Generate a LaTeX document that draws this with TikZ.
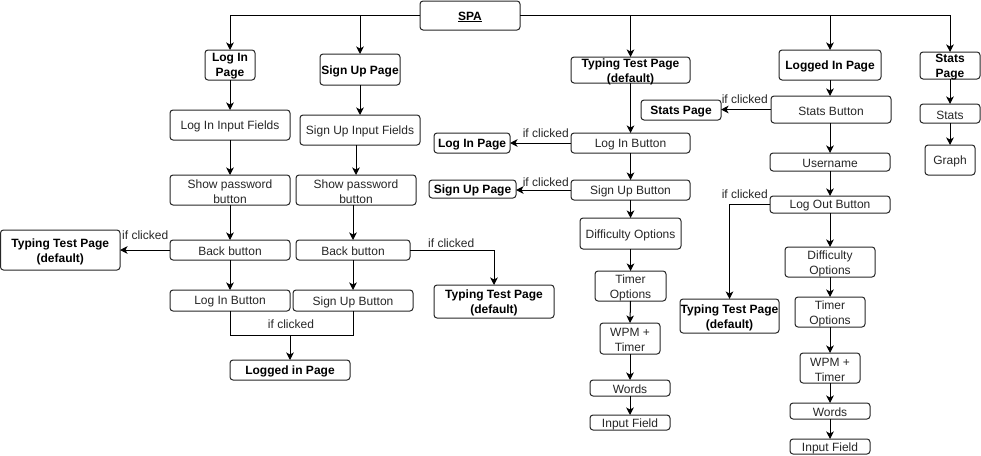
\documentclass[tikz,border=0pt]{standalone}
\usepackage{fontspec}
\setmainfont{Liberation Sans}
\usetikzlibrary{arrows.meta}
\tikzset{
 box/.style={draw=black!85, line width=1pt, rounded corners=3pt, inner sep=0pt, outer sep=0pt},
 txt/.style={inner sep=0pt, align=center, text=black!85, yshift=-1.5pt, font=\fontsize{12}{15}\selectfont},
 bt/.style={inner sep=0pt, align=center, text=black, yshift=-1.5pt, font=\fontsize{12}{15}\selectfont\bfseries},
 lbl/.style={inner sep=0pt, text=black!85, font=\fontsize{12}{14}\selectfont},
 arr/.style={line width=1pt, -{Stealth[length=7.5pt,width=7.5pt,inset=2pt]}},
 ln/.style={line width=1pt},
}
\newcommand\bx[7][txt]{\node[box, minimum width={#4-#2}, minimum height={#5-#3}] (#6) at ({(#2+#4)/2},{(#3+#5)/2}) {}; \node[#1] (#6-t) at (#6.center) {#7};}
\begin{document}
\begin{tikzpicture}[x=1pt,y=-1pt]
\useasboundingbox (0,0) rectangle (981,455);
% top
\bx[bt]{420}{1}{520}{30}{spa}{\underline{SPA}}
% left column
\bx[bt]{205}{50}{255}{80}{lip}{Log In\\Page}
\bx[bt]{320}{54}{400}{85}{sup}{Sign Up Page}
\bx{170}{110}{290}{140}{lif}{Log In Input Fields}
\bx{300}{115}{420}{145}{suf}{Sign Up Input Fields}
\bx{170}{175}{290}{205}{spL}{Show password\\button}
\bx{296}{175}{416}{205}{spR}{Show password\\button}
\bx[bt]{0.5}{230}{120}{270}{ttL}{Typing Test Page\\(default)}
\bx{170}{240}{290}{260}{bbL}{Back button}
\bx{296}{240}{410}{260}{bbR}{Back button}
\bx{170}{290}{290}{311}{libL}{Log In Button}
\bx{293}{290}{413}{311}{subL}{Sign Up Button}
\bx[bt]{434}{285}{554}{318}{ttM2}{Typing Test Page\\(default)}
\bx[bt]{230}{360}{350}{380}{lgd}{Logged in Page}
% middle column
\bx[bt]{571}{57}{690}{83}{ttM}{Typing Test Page\\(default)}
\bx[bt]{434}{133}{510}{153}{lipM}{Log In Page}
\bx{571}{133}{690}{153}{libM}{Log In Button}
\bx[bt]{429}{180}{516}{198}{supM}{Sign Up Page}
\bx{571}{180}{690}{200}{subM}{Sign Up Button}
\bx{580}{218}{681}{249}{doM}{Difficulty Options}
\bx{595}{271}{666}{301}{toM}{Timer\\Options}
\bx{600}{323}{660}{354}{wpmM}{WPM +\\Timer}
\bx{590}{380}{670}{396}{wM}{Words}
\bx{590}{415}{670}{430}{ifM}{Input Field}
% logged in column
\bx[bt]{641}{100}{721}{120}{statsP}{Stats Page}
\bx[bt]{779}{50}{881}{80}{logd}{Logged In Page}
\bx{771}{96}{891}{123}{sb}{Stats Button}
\bx{770}{153}{890}{171}{un}{Username}
\bx{770}{196}{890}{213}{lob}{Log Out Button}
\bx[bt]{680}{299}{779}{333}{ttR}{Typing Test Page\\(default)}
\bx{785}{247}{875}{277}{doR}{Difficulty\\Options}
\bx{795}{297}{865}{327}{toR}{Timer\\Options}
\bx{800}{353}{860}{383}{wpmR}{WPM +\\Timer}
\bx{790}{403}{870}{419}{wR}{Words}
\bx{790}{439}{870}{454}{ifR}{Input Field}
% stats column
\bx[bt]{920}{52}{980}{79}{sp2}{Stats\\Page}
\bx{920}{104}{980}{123}{st}{Stats}
\bx{925}{145}{975}{175}{gr}{Graph}
% connectors from SPA
\draw[arr] (spa.west) -| (lip.north);
\draw[arr] (spa.west) -| (sup.north);
\draw[arr] (spa.east) -| (ttM.north);
\draw[arr] (spa.east) -| (logd.north);
\draw[arr] (spa.east) -| (sp2.north);
% left column
\draw[arr] (lip.south) -- (lif.north);
\draw[arr] (lif.south) -- (spL.north);
\draw[arr] (spL.south) -- (bbL.north);
\draw[arr] (bbL.south) -- (libL.north);
\draw[arr] (sup.south) -- (suf.north);
\draw[arr] (spR.north |- suf.south) -- (spR.north);
\draw[arr] (bbR.north |- spR.south) -- (bbR.north);
\draw[arr] (bbR.south) -- (bbR.south |- subL.north);
\draw[arr] (bbL.west) -- (ttL.east);
\node[lbl, anchor=west] (l1) at (122,235) {if clicked};
\draw[arr] (bbR.east) -| (ttM2.north);
\node[lbl, anchor=west] (l2) at (428,243) {if clicked};
\coordinate (j) at (290,335);
\draw[ln] (libL.south) |- (j);
\draw[ln] (subL.south) |- (j);
\draw[arr] (j) -- (lgd.north);
\node[lbl] (l3) at (291,324) {if clicked};
% middle column
\draw[arr] (ttM.south) -- (libM.north);
\draw[arr] (libM.south) -- (subM.north);
\draw[arr] (subM.south) -- (doM.north);
\draw[arr] (doM.south) -- (toM.north);
\draw[arr] (toM.south) -- (wpmM.north);
\draw[arr] (wpmM.south) -- (wM.north);
\draw[arr] (wM.south) -- (ifM.north);
\draw[arr] (libM.west) -- (lipM.east);
\node[lbl, anchor=east] (l4) at (569,133) {if clicked};
\draw[arr] (subM.west) -- (supM.east |- subM.west);
\node[lbl, anchor=east] (l5) at (569,182) {if clicked};
% logged in column
\draw[arr] (logd.south) -- (logd.south |- sb.north);
\draw[arr] (un.north |- sb.south) -- (un.north);
\draw[arr] (un.south) -- (lob.north);
\draw[arr] (lob.south) -- (doR.north);
\draw[arr] (doR.south) -- (toR.north);
\draw[arr] (toR.south) -- (wpmR.north);
\draw[arr] (wpmR.south) -- (wR.north);
\draw[arr] (wR.south) -- (ifR.north);
\draw[arr] (sb.west) -- (statsP.east |- sb.west);
\node[lbl, anchor=east] (l6) at (768,99) {if clicked};
\draw[arr] (lob.west) -| (ttR.north);
\node[lbl, anchor=east] (l7) at (768,194) {if clicked};
% stats column
\draw[arr] (sp2.south) -- (st.north);
\draw[arr] (st.south) -- (gr.north);
\end{tikzpicture}
\end{document}
